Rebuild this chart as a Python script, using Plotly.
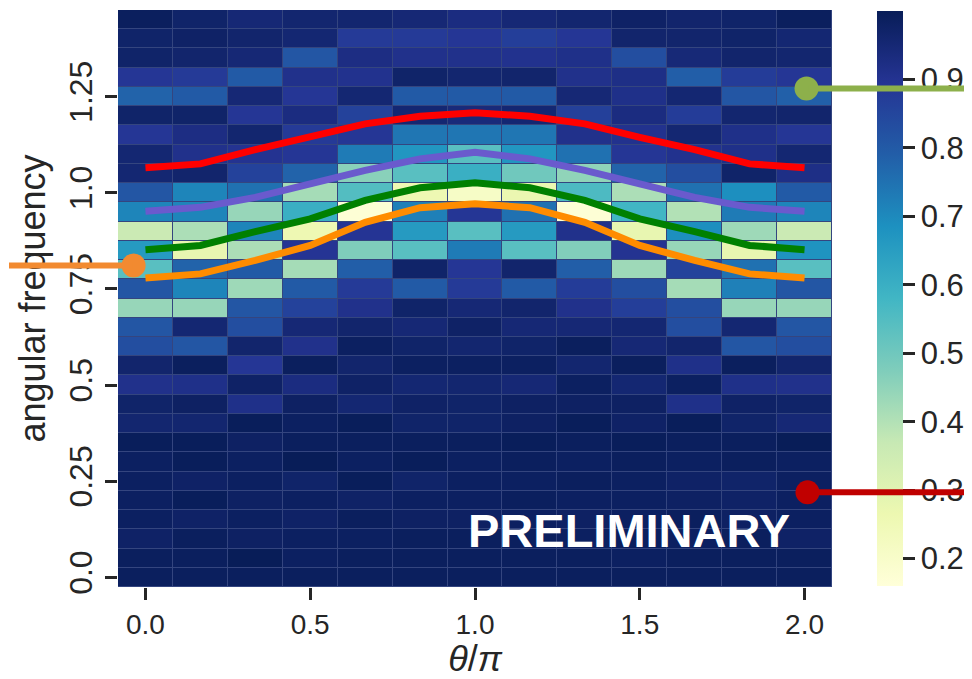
import plotly.graph_objects as go

# ---------------- data ----------------
theta = [0.0, 0.1667, 0.3333, 0.5, 0.6667, 0.8333, 1.0, 1.1667, 1.3333, 1.5, 1.6667, 1.8333, 2.0]
omega = [1.45, 1.40, 1.35, 1.30, 1.25, 1.20, 1.15, 1.10, 1.05, 1.00, 0.95, 0.90, 0.85, 0.80, 0.75,
         0.70, 0.65, 0.60, 0.55, 0.50, 0.45, 0.40, 0.35, 0.30, 0.25, 0.20, 0.15, 0.10, 0.05, 0.00]

intensity = [
    [0.99, 0.97, 0.95, 0.96, 0.96, 0.95, 0.93, 0.95, 0.96, 0.975, 0.965, 0.97, 0.99],
    [0.97, 0.975, 0.965, 0.955, 0.88, 0.88, 0.89, 0.87, 0.89, 0.965, 0.965, 0.97, 0.955],
    [0.97, 0.965, 0.95, 0.81, 0.925, 0.91, 0.91, 0.905, 0.915, 0.83, 0.945, 0.965, 0.96],
    [0.89, 0.88, 0.80, 0.91, 0.905, 0.97, 0.96, 0.965, 0.91, 0.92, 0.79, 0.875, 0.89],
    [0.78, 0.80, 0.95, 0.89, 0.955, 0.80, 0.80, 0.80, 0.95, 0.915, 0.955, 0.81, 0.785],
    [0.97, 0.97, 0.89, 0.93, 0.86, 0.955, 0.94, 0.955, 0.865, 0.93, 0.875, 0.96, 0.965],
    [0.89, 0.925, 0.96, 0.88, 0.89, 0.74, 0.74, 0.74, 0.91, 0.905, 0.955, 0.915, 0.89],
    [0.955, 0.91, 0.90, 0.89, 0.73, 0.67, 0.54, 0.67, 0.75, 0.89, 0.905, 0.915, 0.955],
    [0.955, 0.965, 0.86, 0.78, 0.46, 0.54, 0.60, 0.50, 0.45, 0.78, 0.83, 0.97, 0.92],
    [0.81, 0.71, 0.75, 0.42, 0.55, 0.26, 0.21, 0.27, 0.56, 0.41, 0.75, 0.69, 0.80],
    [0.71, 0.71, 0.44, 0.60, 0.17, 0.72, 0.89, 0.75, 0.17, 0.58, 0.40, 0.73, 0.71],
    [0.36, 0.41, 0.71, 0.26, 0.895, 0.66, 0.54, 0.66, 0.91, 0.28, 0.69, 0.43, 0.36],
    [0.66, 0.28, 0.41, 0.895, 0.475, 0.54, 0.73, 0.54, 0.47, 0.90, 0.44, 0.28, 0.68],
    [0.54, 0.78, 0.80, 0.42, 0.79, 0.97, 0.89, 0.965, 0.79, 0.43, 0.86, 0.75, 0.54],
    [0.81, 0.71, 0.43, 0.80, 0.88, 0.80, 0.88, 0.80, 0.875, 0.83, 0.42, 0.72, 0.81],
    [0.44, 0.44, 0.81, 0.86, 0.91, 0.97, 0.95, 0.965, 0.91, 0.87, 0.83, 0.44, 0.44],
    [0.81, 0.955, 0.83, 0.95, 0.965, 0.95, 0.975, 0.95, 0.95, 0.955, 0.83, 0.955, 0.81],
    [0.83, 0.81, 0.965, 0.91, 0.985, 0.97, 0.96, 0.97, 0.99, 0.95, 0.965, 0.81, 0.83],
    [0.965, 0.99, 0.89, 0.99, 0.965, 0.985, 0.985, 0.985, 0.96, 0.99, 0.915, 0.99, 0.965],
    [0.91, 0.915, 0.975, 0.93, 0.975, 0.955, 0.96, 0.95, 0.985, 0.955, 0.985, 0.915, 0.91],
    [0.97, 0.98, 0.915, 0.98, 0.955, 0.975, 0.97, 0.98, 0.98, 0.98, 0.915, 0.975, 0.97],
    [0.96, 0.96, 0.995, 0.985, 0.995, 0.97, 0.97, 0.98, 0.995, 0.975, 0.995, 0.97, 0.95],
    [0.995, 0.995, 0.98, 0.99, 0.99, 0.99, 0.99, 0.995, 0.99, 0.995, 0.99, 0.99, 1.0],
    [0.985, 0.995, 0.985, 1.0, 0.985, 0.995, 0.985, 0.99, 0.985, 0.99, 0.985, 0.99, 0.985],
    [0.985, 0.975, 0.985, 0.97, 0.995, 0.97, 0.985, 0.985, 0.99, 0.985, 0.975, 0.97, 0.985],
    [0.985, 0.995, 0.98, 0.985, 0.975, 0.985, 0.985, 0.99, 0.985, 0.985, 0.98, 0.975, 0.985],
    [0.985, 0.975, 0.985, 0.975, 0.99, 0.98, 0.98, 0.985, 0.98, 0.985, 0.99, 0.98, 0.985],
    [0.975, 0.99, 0.98, 0.985, 0.985, 0.99, 0.99, 0.99, 0.985, 0.99, 0.985, 0.99, 0.975],
    [0.99, 0.99, 1.0, 0.985, 0.99, 0.99, 0.99, 0.99, 0.99, 0.985, 0.99, 0.99, 0.99],
    [0.99, 0.99, 0.99, 0.99, 0.99, 0.99, 0.99, 0.99, 0.99, 0.99, 0.99, 0.99, 0.99],
]

curve_red = [1.065, 1.075, 1.112, 1.144, 1.179, 1.199, 1.208, 1.199, 1.179, 1.144, 1.112, 1.075, 1.065]
curve_purple = [0.952, 0.962, 0.988, 1.023, 1.058, 1.088, 1.105, 1.088, 1.058, 1.023, 0.988, 0.962, 0.952]
curve_green = [0.852, 0.863, 0.899, 0.932, 0.980, 1.013, 1.026, 1.013, 0.980, 0.932, 0.899, 0.863, 0.852]
curve_orange = [0.778, 0.789, 0.824, 0.863, 0.923, 0.961, 0.971, 0.961, 0.923, 0.863, 0.824, 0.789, 0.778]

x_tickvals = [0.0, 0.5, 1.0, 1.5, 2.0]
x_ticktext = ["0.0", "0.5", "1.0", "1.5", "2.0"]
y_tickvals = [0.0, 0.25, 0.5, 0.75, 1.0, 1.25]
y_ticktext = ["0.0", "0.25", "0.5", "0.75", "1.0", "1.25"]
cb_tickvals = [0.2, 0.3, 0.4, 0.5, 0.6, 0.7, 0.8, 0.9]
cb_ticktext = ["0.2", "0.3", "0.4", "0.5", "0.6", "0.7", "0.8", "0.9"]

# callout markers: dot position (data coords), leader-line far end (paper x), colour
callouts = [
    (-0.036, 0.811, -0.18, "#F28A30"),
    (2.006, 1.271, 1.22, "#8DB04B"),
    (2.009, 0.221, 1.22, "#C00000"),
]

# ---------------- figure ----------------
FONT = "Liberation Sans, Arial, Helvetica, sans-serif"
TXT = "#262626"

ylgnbu = ['rgb(255,255,217)', 'rgb(237,248,177)', 'rgb(199,233,180)', 'rgb(127,205,187)',
          'rgb(65,182,196)', 'rgb(29,145,192)', 'rgb(34,94,168)', 'rgb(37,52,148)', 'rgb(8,29,88)']
cscale = [[i / (len(ylgnbu) - 1), c] for i, c in enumerate(ylgnbu)]

fig = go.Figure()
fig.add_trace(go.Heatmap(
    x=theta, y=omega, z=intensity, colorscale=cscale, zmin=0.16, zmax=1.0,
    xgap=1, ygap=1, hoverinfo="skip",
    colorbar=dict(
        x=1.063, xanchor="left", xpad=0, y=0.5, yanchor="middle", ypad=0, len=0.997,
        thickness=26, outlinewidth=0,
        ticks="outside", ticklen=12, tickwidth=2.5, tickcolor=TXT,
        tickvals=cb_tickvals, ticktext=cb_ticktext,
        tickfont=dict(family=FONT, size=31, color=TXT),
    ),
))

for ys, col in [(curve_red, "#FF0000"), (curve_purple, "#6A5ACD"),
                (curve_green, "#008000"), (curve_orange, "#FF8C00")]:
    fig.add_trace(go.Scatter(x=theta, y=ys, mode="lines",
                             line=dict(color=col, width=7), hoverinfo="skip",
                             showlegend=False))

PLOT_L, PLOT_W = 110, 714
X_LO, X_HI = -1 / 12, 2 + 1 / 12

shapes = []
annotations = [dict(text="<b>PRELIMINARY</b>", x=1.467, y=0.122, xref="x", yref="y",
                    showarrow=False, font=dict(family=FONT, size=47, color="white"))]
for (dx, dy, end_paper, col) in callouts:
    shapes.append(dict(type="circle", xref="x", yref="y", xsizemode="pixel", ysizemode="pixel",
                       xanchor=dx, yanchor=dy, x0=-12, x1=12, y0=-12, y1=12,
                       fillcolor=col, line=dict(width=0), layer="above"))
    # leader line: head at the figure edge, tail (empty text) at the dot
    dot_paper = (dx - X_LO) / (X_HI - X_LO)
    offset_px = (dot_paper - end_paper) * PLOT_W
    annotations.append(dict(text="", x=end_paper, y=dy, xref="paper", yref="y", showarrow=True,
                            ax=offset_px, ay=0, arrowhead=0, arrowwidth=6, arrowcolor=col,
                            standoff=0, startstandoff=0))

# the page adds an 8 px body margin, so the figure is 8 px smaller on each axis
fig.update_layout(
    width=964, height=671,
    margin=dict(l=PLOT_L, r=140, t=2, b=92, autoexpand=False),
    paper_bgcolor="white", plot_bgcolor="#34457F",
    showlegend=False,
    font=dict(family=FONT, color=TXT),
    shapes=shapes,
    annotations=annotations,
)
fig.update_xaxes(
    range=[X_LO, X_HI], showgrid=False, zeroline=False, showline=False,
    ticks="outside", ticklen=12, tickwidth=2.5, tickcolor=TXT,
    tickvals=x_tickvals, ticktext=x_ticktext,
    tickfont=dict(family=FONT, size=28, color=TXT),
    title=dict(text="<i>θ</i>/<i>π</i>", font=dict(family=FONT, size=36, color=TXT), standoff=6),
)
fig.update_yaxes(
    range=[-0.025, 1.475], showgrid=False, zeroline=False, showline=False,
    ticks="outside", ticklen=12, tickwidth=2.5, tickcolor=TXT,
    tickvals=y_tickvals, ticktext=y_ticktext, tickangle=-90,
    tickfont=dict(family=FONT, size=32, color=TXT),
    title=dict(text="angular frequency", font=dict(family=FONT, size=36, color=TXT), standoff=6),
)

fig.write_html("out.html")
